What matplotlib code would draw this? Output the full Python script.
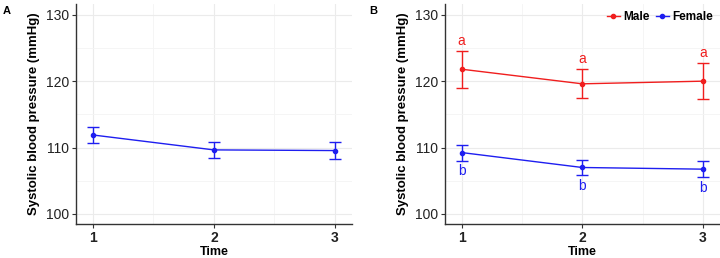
import numpy as np
import matplotlib.pyplot as plt
from matplotlib.ticker import MultipleLocator
from matplotlib.lines import Line2D

plt.rcParams["font.family"] = ["Liberation Sans", "DejaVu Sans"]

# data
time = [1, 2, 3]

all_mean = [111.9, 109.65, 109.55]
all_lo = [110.75, 108.5, 108.3]
all_hi = [113.15, 110.85, 110.85]

male_mean = [121.8, 119.6, 120.0]
male_lo = [119.0, 117.4, 117.3]
male_hi = [124.6, 121.9, 122.8]

female_mean = [109.25, 107.0, 106.75]
female_lo = [108.05, 105.8, 105.5]
female_hi = [110.45, 108.2, 108.05]

male_letters = ["a", "a", "a"]
female_letters = ["b", "b", "b"]

RED = "#F01E1E"
BLUE = "#1E1EF0"


def style_axes(ax):
    ax.set_xlim(0.862, 3.142)
    ax.set_ylim(98.5, 131.6)
    ax.set_xticks(time)
    ax.xaxis.set_minor_locator(MultipleLocator(0.5))
    ax.yaxis.set_major_locator(MultipleLocator(10))
    ax.yaxis.set_minor_locator(MultipleLocator(5))
    ax.grid(which="major", color="#EBEBEB", lw=0.8)
    ax.grid(which="minor", color="#F4F4F4", lw=0.6)
    ax.set_axisbelow(True)
    for s in ["top", "right"]:
        ax.spines[s].set_visible(False)
    for s in ["left", "bottom"]:
        ax.spines[s].set_color("#333333")
        ax.spines[s].set_linewidth(1.0)
    ax.tick_params(which="minor", length=0)
    ax.tick_params(which="major", length=3, color="#333333", labelsize=10,
                   labelcolor="#222222", pad=2)
    for lab in ax.get_xticklabels():
        lab.set_fontweight("bold")
    ax.set_xlabel("Time", fontsize=9, fontweight="bold", labelpad=1)
    ax.set_ylabel("Systolic blood pressure (mmHg)", fontsize=9.5,
                  fontweight="bold", labelpad=4)


def draw_series(ax, mean, lo, hi, color):
    mean = np.array(mean)
    err = [mean - np.array(lo), np.array(hi) - mean]
    ax.errorbar(time, mean, yerr=err, color=color, lw=1.0, elinewidth=1.0,
                capsize=4, capthick=1.0, marker="o", ms=3)


fig = plt.figure(figsize=(7.2, 2.58), dpi=100)
ax1 = fig.add_axes([0.1056, 0.132, 0.3834, 0.852])
ax2 = fig.add_axes([0.618, 0.132, 0.382, 0.852])

# panel A
draw_series(ax1, all_mean, all_lo, all_hi, BLUE)
style_axes(ax1)

# panel B
draw_series(ax2, male_mean, male_lo, male_hi, RED)
draw_series(ax2, female_mean, female_lo, female_hi, BLUE)
for x, h, t in zip(time, male_hi, male_letters):
    ax2.text(x, h + 0.8, t, color=RED, ha="center", va="baseline", fontsize=10)
for x, l, t in zip(time, female_lo, female_letters):
    ax2.text(x, l - 2.25, t, color=BLUE, ha="center", va="baseline", fontsize=10)
style_axes(ax2)
handles = [Line2D([], [], color=RED, marker="o", ms=3, lw=1.0),
           Line2D([], [], color=BLUE, marker="o", ms=3, lw=1.0)]
leg = ax2.legend(handles, ["Male", "Female"], loc="upper right", ncol=2,
                 frameon=False, fontsize=8.5, handlelength=1.1,
                 columnspacing=0.5, handletextpad=0.3, borderaxespad=0.2,
                 bbox_to_anchor=(1.0, 1.0))
for t in leg.get_texts():
    t.set_fontweight("bold")

fig.text(0.004, 0.978, "A", fontsize=8, fontweight="bold", va="top")
fig.text(0.513, 0.978, "B", fontsize=8, fontweight="bold", va="top")

fig.savefig("out.png", dpi=100)
